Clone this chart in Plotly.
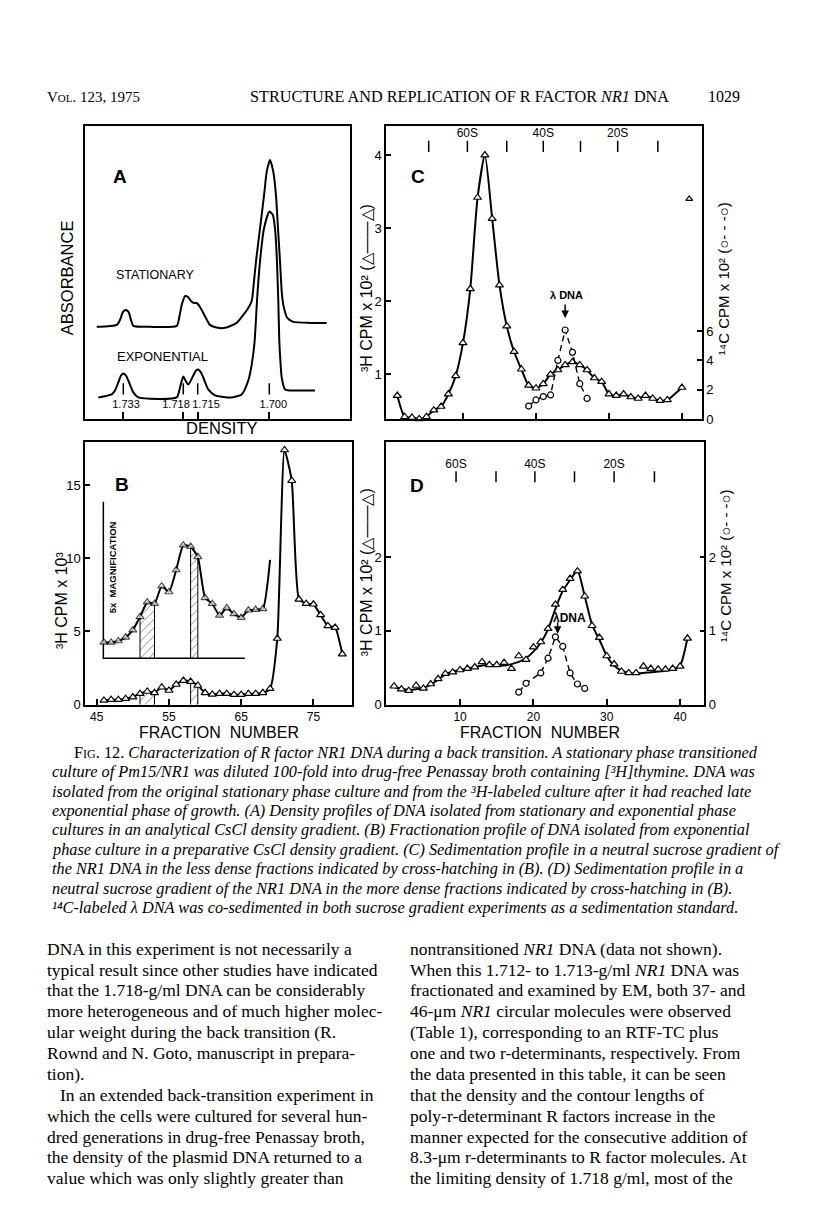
import plotly.graph_objects as go

W, H = 816, 1227

# ---------------- Panel A : densitometer scans ----------------
a_stat_pos = [11.7, 31.7, 35, 38, 40.7, 43.5, 46, 48.3, 65, 91.7, 94.5, 96.7, 100, 103, 106, 109,
              111.7, 115, 118.3, 125, 133, 140, 151.7, 158.3, 163.3, 166.7, 169, 171, 175, 179,
              181.7, 185, 188.3, 191, 193, 195, 197, 199, 202.3, 208.3, 225, 241.7]
a_stat_abs = [0.93, 0.95, 1.00, 1.08, 1.10, 1.08, 1.00, 0.94, 0.93, 0.94, 1.04, 1.15, 1.24, 1.23, 1.19, 1.17,
              1.17, 1.13, 1.07, 0.95, 0.92, 0.92, 0.97, 1.05, 1.12, 1.19, 1.39, 1.59, 1.92, 2.25,
              2.49, 2.61, 2.49, 2.25, 1.92, 1.59, 1.25, 1.12, 1.02, 0.98, 0.97, 0.97]
a_exp_pos = [13.3, 26.7, 30, 33.3, 36, 38.3, 41, 43.3, 48.3, 53.3, 91.7, 95, 98.3, 100.5, 103.3, 108.3,
             111, 113.3, 116, 118.3, 123.3, 130, 146.7, 156.7, 163.3, 166.7, 169.5, 172.3, 175, 179,
             184.3, 187.7, 190, 191.7, 193.3, 194.3, 195.5, 196.7, 200, 205, 230]
a_exp_abs = [0.22, 0.25, 0.29, 0.37, 0.44, 0.46, 0.44, 0.39, 0.27, 0.22, 0.22, 0.32, 0.43, 0.39, 0.35, 0.44,
             0.49, 0.50, 0.47, 0.42, 0.30, 0.24, 0.22, 0.25, 0.39, 0.55, 0.77, 1.24, 1.59, 1.92,
             2.09, 2.06, 1.92, 1.65, 1.19, 0.79, 0.57, 0.42, 0.30, 0.29, 0.29]
a_density_pos = [38.3, 98.3, 112.7, 184.3]
a_density_lbl = ["1.733", "1.718", "1.715", "1.700"]
a_density_lbl_pos = [41, 91, 121, 188.3]
a_marker_level = 0.305
a_label_level = 0.14

# ---------------- Panel B : CsCl fractionation ----------------
b_frac = list(range(46, 80))
b_cpm = [0.29, 0.34, 0.34, 0.41, 0.52, 0.75, 0.90, 0.81, 1.19, 0.97,
         1.38, 1.65, 1.58, 1.31, 0.81, 0.70, 0.75, 0.75, 0.68, 0.68,
         0.75, 0.75, 0.81, 1.09, 4.52, 17.4, 15.3, 7.2, 6.9, 6.86, 6.13, 5.38, 5.27, 3.46]
b_inset_frac = list(range(46, 70))
b_inset_cpm = [4.25, 4.25, 4.35, 4.6, 5.1, 6.0, 7.0, 6.9, 8.1, 7.7, 9.2, 10.9, 10.8, 10.1,
               7.3, 6.9, 6.1, 6.6, 6.2, 5.95, 6.45, 6.5, 6.55, 9.9]
b_inset_base = 3.17
b_inset_top = 13.87
b_inset_x = [45.92, 65.5]
b_hatch = [(51, 53), (58, 59)]

# ---------------- Panel C : sucrose gradient (less dense) ----------------
c_frac = list(range(1, 39)) + [40]
c_h3 = [0.71, 0.42, 0.41, 0.39, 0.42, 0.51, 0.56, 0.73, 0.98, 1.43,
        2.17, 3.42, 4.00, 3.13, 2.22, 1.66, 1.31, 1.07, 0.85, 0.81,
        0.87, 1.00, 1.06, 1.13, 1.17, 1.13, 1.06, 0.95, 0.90, 0.73,
        0.71, 0.73, 0.69, 0.67, 0.71, 0.67, 0.64, 0.65, 0.82]
c_c14_frac = [19, 20, 21, 22, 23, 24, 25, 26, 27]
c_c14 = [0.88, 1.3, 1.53, 1.64, 4.0, 6.08, 4.55, 2.41, 1.4]
c_extra_frac = [41]
c_extra_h3 = [3.40]
c_s_pos = [5.3, 10.6, 16.0, 21.0, 26.1, 31.2, 36.7]
c_s_lbl = ["", "60S", "", "40S", "", "20S", ""]
c_s_level = 4.12

# ---------------- Panel D : sucrose gradient (more dense) ----------------
d_frac = list(range(1, 42))
d_h3 = [0.25, 0.21, 0.19, 0.26, 0.22, 0.28, 0.35, 0.42, 0.44, 0.47,
        0.49, 0.51, 0.58, 0.54, 0.54, 0.57, 0.49, 0.66, 0.61, 0.78,
        0.85, 1.03, 1.36, 1.56, 1.71, 1.81, 1.47, 1.07, 0.91, 0.66,
        0.55, 0.45, 0.43, 0.43, 0.52, 0.49, 0.48, 0.48, 0.49, 0.52, 0.90]
d_curve_frac = [1, 2, 3, 4, 5, 6, 7, 8, 9, 10, 11, 12, 13, 14, 15, 16, 17, 18, 19, 20, 21, 22, 23, 24,
                25, 26, 27, 28, 29, 30, 31, 32, 33, 34, 36, 38, 39, 40, 41]
d_curve_h3 = [0.24, 0.215, 0.20, 0.21, 0.23, 0.27, 0.34, 0.41, 0.45, 0.47, 0.49, 0.51, 0.53, 0.54, 0.53,
              0.53, 0.55, 0.58, 0.63, 0.72, 0.84, 1.02, 1.30, 1.54, 1.69, 1.82, 1.47, 1.08, 0.88, 0.66,
              0.53, 0.46, 0.43, 0.42, 0.44, 0.46, 0.48, 0.53, 0.90]
d_c14_frac = [18, 19, 21, 22, 23, 24, 25, 26, 27]
d_c14 = [0.17, 0.29, 0.43, 0.63, 0.92, 0.79, 0.43, 0.28, 0.22]
d_s_pos = [9.45, 14.9, 20.2, 25.6, 31.0, 36.5]
d_s_lbl = ["60S", "", "40S", "", "20S", ""]
d_s_level = 3.09

# ---------------- Page text ----------------
caption_lines = [
    "F<span style='font-size:12px'>IG</span>. 12. <i>Characterization of R factor NR1 DNA during a back transition. A stationary phase transitioned</i>",
    "<i>culture of Pm15/NR1 was diluted 100-fold into drug-free Penassay broth containing [³H]thymine. DNA was</i>",
    "<i>isolated from the original stationary phase culture and from the ³H-labeled culture after it had reached late</i>",
    "<i>exponential phase of growth. (A) Density profiles of DNA isolated from stationary and exponential phase</i>",
    "<i>cultures in an analytical CsCl density gradient. (B) Fractionation profile of DNA isolated from exponential</i>",
    "<i>phase culture in a preparative CsCl density gradient. (C) Sedimentation profile in a neutral sucrose gradient of</i>",
    "<i>the NR1 DNA in the less dense fractions indicated by cross-hatching in (B). (D) Sedimentation profile in a</i>",
    "<i>neutral sucrose gradient of the NR1 DNA in the more dense fractions indicated by cross-hatching in (B).</i>",
    "<i>¹⁴C-labeled λ DNA was co-sedimented in both sucrose gradient experiments as a sedimentation standard.</i>",
]
left_col = [
    "DNA in this experiment is not necessarily a",
    "typical result since other studies have indicated",
    "that the 1.718-g/ml DNA can be considerably",
    "more heterogeneous and of much higher molec-",
    "ular weight during the back transition (R.",
    "Rownd and N. Goto, manuscript in prepara-",
    "tion).",
    "In an extended back-transition experiment in",
    "which the cells were cultured for several hun-",
    "dred generations in drug-free Penassay broth,",
    "the density of the plasmid DNA returned to a",
    "value which was only slightly greater than",
]
right_col = [
    "nontransitioned <i>NR1</i> DNA (data not shown).",
    "When this 1.712- to 1.713-g/ml <i>NR1</i> DNA was",
    "fractionated and examined by EM, both 37- and",
    "46-μm <i>NR1</i> circular molecules were observed",
    "(Table 1), corresponding to an RTF-TC plus",
    "one and two r-determinants, respectively. From",
    "the data presented in this table, it can be seen",
    "that the density and the contour lengths of",
    "poly-r-determinant R factors increase in the",
    "manner expected for the consecutive addition of",
    "8.3-μm r-determinants to R factor molecules. At",
    "the limiting density of 1.718 g/ml, most of the",
]

SANS = "Liberation Sans, Arial, sans-serif"
SERIF = "Liberation Serif, Times New Roman, serif"


def px(x):
    return x / W


def py(y):
    return 1 - y / H


fig = go.Figure()

tri = dict(symbol="triangle-up", size=7, color="white", line=dict(color="black", width=1.2))
circ = dict(symbol="circle", size=6, color="white", line=dict(color="black", width=1.2))
LW = 2.0

# ---- A traces
fig.add_trace(go.Scatter(x=a_stat_pos, y=a_stat_abs, mode="lines", xaxis="x", yaxis="y",
                         line=dict(color="black", width=LW, shape="spline", smoothing=0.6)))
fig.add_trace(go.Scatter(x=a_exp_pos, y=a_exp_abs, mode="lines", xaxis="x", yaxis="y",
                         line=dict(color="black", width=LW, shape="spline", smoothing=0.6)))
fig.add_trace(go.Scatter(x=a_density_pos, y=[a_marker_level] * len(a_density_pos), mode="markers",
                         xaxis="x", yaxis="y",
                         marker=dict(symbol="line-ns-open", size=8, color="black", line=dict(width=1.5))))
fig.add_trace(go.Scatter(x=a_density_lbl_pos, y=[a_label_level] * len(a_density_lbl_pos), mode="text",
                         xaxis="x", yaxis="y", text=a_density_lbl, textposition="middle center",
                         textfont=dict(size=11, family=SANS, color="black")))

# ---- B traces
for lo, hi in b_hatch:
    xs = [f for f in b_frac if lo <= f <= hi]
    ys = [b_cpm[b_frac.index(f)] for f in xs]
    fig.add_trace(go.Scatter(x=[lo] + xs + [hi], y=[0] + ys + [0], mode="lines", fill="toself",
                             xaxis="x2", yaxis="y2", fillcolor="white",
                             fillpattern=dict(shape="/", fgcolor="black", bgcolor="white", size=6, solidity=0.15),
                             line=dict(color="black", width=1)))
    xs = [f for f in b_inset_frac if lo <= f <= hi]
    ys = [b_inset_cpm[b_inset_frac.index(f)] for f in xs]
    fig.add_trace(go.Scatter(x=[lo] + xs + [hi], y=[b_inset_base] + ys + [b_inset_base], mode="lines",
                             fill="toself", xaxis="x2", yaxis="y2", fillcolor="white",
                             fillpattern=dict(shape="/", fgcolor="black", bgcolor="white", size=6, solidity=0.15),
                             line=dict(color="black", width=1)))
fig.add_trace(go.Scatter(x=[b_inset_x[0], b_inset_x[0], b_inset_x[1]],
                         y=[b_inset_top, b_inset_base, b_inset_base], mode="lines",
                         xaxis="x2", yaxis="y2", line=dict(color="black", width=1.5)))
fig.add_trace(go.Scatter(x=b_frac, y=b_cpm, mode="lines+markers", xaxis="x2", yaxis="y2", cliponaxis=False,
                         line=dict(color="black", width=LW, shape="spline", smoothing=0.5), marker=tri))
inset_sizes = [7] * (len(b_inset_frac) - 1) + [0]
fig.add_trace(go.Scatter(x=b_inset_frac, y=b_inset_cpm, mode="lines+markers", xaxis="x2", yaxis="y2",
                         line=dict(color="black", width=LW, shape="spline", smoothing=0.5),
                         marker=dict(tri, size=inset_sizes)))

# ---- C traces
fig.add_trace(go.Scatter(x=c_frac, y=c_h3, mode="lines+markers", xaxis="x3", yaxis="y3", cliponaxis=False,
                         line=dict(color="black", width=LW, shape="spline", smoothing=0.6), marker=tri))
fig.add_trace(go.Scatter(x=c_extra_frac, y=c_extra_h3, mode="markers", xaxis="x3", yaxis="y3",
                         marker=dict(tri, size=6)))
fig.add_trace(go.Scatter(x=c_c14_frac, y=c_c14, mode="lines+markers", xaxis="x3", yaxis="y4",
                         line=dict(color="black", width=1.4, dash="6px,4px"), marker=circ))
fig.add_trace(go.Scatter(x=c_s_pos, y=[c_s_level] * len(c_s_pos), mode="markers+text", xaxis="x3", yaxis="y3",
                         text=c_s_lbl, textposition="top center", textfont=dict(size=12, family=SANS, color="black"),
                         marker=dict(symbol="line-ns-open", size=8, color="black", line=dict(width=1.5))))

# ---- D traces
fig.add_trace(go.Scatter(x=d_curve_frac, y=d_curve_h3, mode="lines", xaxis="x4", yaxis="y5",
                         line=dict(color="black", width=LW, shape="spline", smoothing=0.6)))
fig.add_trace(go.Scatter(x=d_frac, y=d_h3, mode="markers", xaxis="x4", yaxis="y5", cliponaxis=False, marker=tri))
fig.add_trace(go.Scatter(x=d_c14_frac, y=d_c14, mode="lines+markers", xaxis="x4", yaxis="y6",
                         line=dict(color="black", width=1.4, dash="6px,4px"), marker=circ))
fig.add_trace(go.Scatter(x=d_s_pos, y=[d_s_level] * len(d_s_pos), mode="markers+text", xaxis="x4", yaxis="y5",
                         text=d_s_lbl, textposition="top center", textfont=dict(size=12, family=SANS, color="black"),
                         marker=dict(symbol="line-ns-open", size=8, color="black", line=dict(width=1.5))))

ax = dict(showline=True, linecolor="black", linewidth=1.5, showgrid=False, zeroline=False,
          tickcolor="black", tickwidth=1.5, tickfont=dict(size=13, family=SANS, color="black"))
xt = dict(size=12, family=SANS, color="black")

layout = dict(
    width=W, height=H, margin=dict(l=0, r=0, t=0, b=0), showlegend=False,
    paper_bgcolor="white", plot_bgcolor="white", font=dict(family=SANS, color="black"),
    xaxis=dict(ax, domain=[px(85), px(350)], anchor="y", range=[0, 265], mirror=True,
               tickvals=a_density_pos, ticks="inside", ticklen=7, showticklabels=False),
    yaxis=dict(ax, domain=[py(422), py(127)], anchor="x", range=[0, 2.95], mirror=True,
               ticks="", showticklabels=False),
    xaxis2=dict(ax, domain=[px(85), px(351.7)], anchor="y2", range=[43.38, 80.3], mirror=True,
                tickvals=[45, 55, 65, 75], ticks="inside", ticklen=6, tickfont=xt),
    yaxis2=dict(ax, domain=[py(709.3), py(445)], anchor="x2", range=[0, 17.94], mirror=True,
                tickvals=[0, 5, 10, 15], ticks="inside", ticklen=5),
    xaxis3=dict(ax, domain=[px(386), px(702)], anchor="y3", range=[-0.55, 42.75], mirror=True,
                tickvals=[10, 20, 30, 40], ticks="inside", ticklen=6, showticklabels=False),
    yaxis3=dict(ax, domain=[py(421.7), py(126.7)], anchor="x3", range=[0.39, 4.40],
                tickvals=[1, 2, 3, 4], ticks="inside", ticklen=5),
    yaxis4=dict(ax, overlaying="y3", side="right", anchor="x3", range=[0, 20.03],
                tickvals=[0, 2, 4, 6], ticks="inside", ticklen=5),
    xaxis4=dict(ax, domain=[px(386), px(704.3)], anchor="y5", range=[-0.1, 43.3], mirror=True,
                tickvals=[10, 20, 30, 40], ticks="inside", ticklen=6, tickfont=xt),
    yaxis5=dict(ax, domain=[py(709.3), py(445)], anchor="x4", range=[0, 3.56],
                tickvals=[0, 1, 2], ticks="inside", ticklen=5),
    yaxis6=dict(ax, overlaying="y5", side="right", anchor="x4", range=[0, 3.56],
                tickvals=[0, 1, 2], ticks="inside", ticklen=5),
)
fig.update_layout(**layout)

anns = []


def T(text, x, y, size, family=SANS, angle=0, xanchor="center", yanchor="middle"):
    anns.append(dict(text=text, x=px(x), y=py(y), xref="paper", yref="paper", showarrow=False,
                     textangle=angle, xanchor=xanchor, yanchor=yanchor,
                     font=dict(size=size, family=family, color="black")))


# header
T("V<span style='font-size:11px'>OL</span>. 123, 1975", 45, 98, 15, SERIF, xanchor="left")
T("STRUCTURE AND REPLICATION OF R FACTOR <i>NR1</i> DNA", 459, 98, 16.2, SERIF)
T("1029", 742, 97, 16, SERIF, xanchor="right")

# panel labels and texts
T("<b>A</b>", 120, 178, 19)
T("<b>B</b>", 122, 488, 19)
T("<b>C</b>", 418, 178, 19)
T("<b>D</b>", 417, 489, 19)
T("STATIONARY", 155, 277, 12.5)
T("EXPONENTIAL", 162, 359, 13)
T("ABSORBANCE", 67, 280, 16.5, angle=-90)
T("DENSITY", 222, 431, 16.5)
T("³H CPM x 10³", 61, 604, 16, angle=-90)
T("<b>5x  MAGNIFICATION</b>", 112, 571, 9.5, angle=-90)
T("FRACTION  NUMBER", 219, 737, 16)
T("FRACTION  NUMBER", 540, 737, 16)
T("³H CPM x 10² (△——△)", 366, 290, 16, angle=-90)
T("³H CPM x 10² (△——△)", 366, 576, 16, angle=-90)
T("¹⁴C CPM x 10² (○- - -○)", 723, 281, 15, angle=-90)
T("¹⁴C CPM x 10² (○- - -○)", 725, 570, 15, angle=-90)
T("<b>λ DNA</b>", 566, 297, 11)
T("<b>λDNA</b>", 569, 622, 12)

# arrows
anns.append(dict(text="", x=24, y=1.77, xref="x3", yref="y3", showarrow=True, ax=0, ay=-15,
                 arrowhead=2, arrowsize=1, arrowwidth=1.5, arrowcolor="black"))
anns.append(dict(text="", x=23.3, y=0.96, xref="x4", yref="y5", showarrow=True, ax=0, ay=-13,
                 arrowhead=2, arrowsize=1, arrowwidth=1.5, arrowcolor="black"))

# caption
for i, line in enumerate(caption_lines):
    T(line, 72 if i == 0 else 50, 757 + 19.6 * i, 16.3, SERIF, xanchor="left")

# body
for i, line in enumerate(left_col):
    T(line, 58 if i == 7 else 45, 955 + 21 * i, 17.5, SERIF, xanchor="left")
for i, line in enumerate(right_col):
    T(line, 408, 955 + 21 * i, 17.5, SERIF, xanchor="left")

fig.update_layout(annotations=anns)
fig.write_html("out.html", config={"displayModeBar": False},
               post_script="document.body.style.margin='0';document.body.style.padding='0';")
